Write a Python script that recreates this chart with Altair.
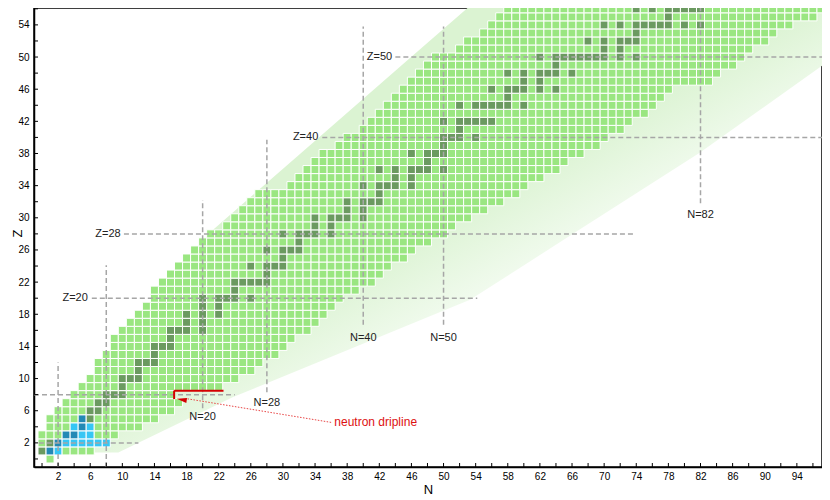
import altair as alt
import pandas as pd

# ---------------- data ----------------
Z_rows = list(range(0, 57))
# first and last known neutron number per proton number Z
N_first = [1, 0, 0, 0, 1, 1, 2, 3, 4, 5,
           6, 7, 7, 8, 9, 9, 10, 11, 12, 13,
           14, 14, 15, 16, 17, 18, 19, 20, 21, 23,
           24, 25, 26, 27, 31, 32, 33, 34, 35, 37,
           38, 40, 41, 42, 43, 44, 45, 46, 47, 48,
           49, 52, 53, 55, 56, 57, 58]
N_last = [1, 6, 8, 9, 12, 14, 16, 17, 16, 22,
          24, 26, 27, 29, 30, 31, 33, 34, 35, 36,
          37, 39, 41, 42, 43, 45, 46, 48, 50, 51,
          53, 55, 57, 59, 60, 62, 64, 65, 67, 69,
          70, 72, 73, 75, 76, 77, 78, 83, 84, 86,
          87, 88, 90, 91, 93, 96, 97]
# stable nuclides (neutron numbers) per Z
stable_N = [
    [], [0, 1], [1, 2], [3, 4], [5], [5, 6], [6, 7], [7, 8], [8, 9, 10], [10],
    [10, 11, 12], [12], [12, 13, 14], [14], [14, 15, 16], [16], [16, 17, 18, 20], [18, 20], [18, 20, 22], [20, 22],
    [20, 22, 23, 24, 26], [24], [24, 25, 26, 27, 28], [28], [26, 28, 29, 30], [30], [28, 30, 31, 32], [32],
    [30, 32, 33, 34, 36], [34, 36],
    [34, 36, 37, 38, 40], [38, 40], [38, 40, 41, 42], [42], [40, 42, 43, 44, 46], [44, 46],
    [42, 44, 46, 47, 48, 50], [48], [46, 48, 49, 50], [50],
    [50, 51, 52, 54], [52], [50, 52, 53, 54, 55, 56], [], [52, 54, 55, 56, 57, 58, 60], [58],
    [56, 58, 59, 60, 62, 64], [60, 62], [58, 60, 62, 63, 64, 66], [64],
    [62, 64, 65, 66, 67, 68, 69, 70, 72, 74], [70, 72], [68, 70, 72, 73, 74], [74],
    [70, 72, 74, 75, 76, 77, 78, 80, 82], [78], [74, 76, 78, 79, 80, 81, 82],
]
# light nuclei highlighted in blue (Z = 0..5)
blue_N = [[], [1, 2], [2, 3, 4, 5, 6, 7, 8], [3, 4, 5, 6], [4, 5, 6], [5]]

# shaded band behind the chart (Z, left N, right N)
band_Z = [0.8, 7.7, 19.8, 28.5, 38.1, 49.6, 57.5]
band_left = [1.0, 4.5, 14.5, 21.3, 32.3, 45.5, 54.6]
band_right = [9.5, 23.8, 53.3, 66.9, 81.9, 98.1, 110.0]

# magic-number guide lines
mh_Z = [2, 8, 20, 28, 40, 50]
mh_N1 = [-0.4, -1.0, 6.2, 10.2, 34.9, 44.0]
mh_N2 = [12.0, 24.0, 54.2, 73.8, 98.0, 98.0]
mv_N = [2, 8, 20, 28, 40, 50, 82]
mv_Z1 = [-1.0, -1.0, 6.3, 8.3, 16.7, 16.7, 31.8]
mv_Z2 = [12.0, 24.1, 32.2, 39.7, 53.8, 53.8, 56.1]

zlab_text = ["Z=20", "Z=28", "Z=40", "Z=50"]
zlab_N = [5.7, 9.8, 34.4, 43.6]
zlab_Z = [20, 28, 40, 50]
nlab_text = ["N=20", "N=28", "N=40", "N=50", "N=82"]
nlab_N = [20, 28, 40, 50, 82]
nlab_Z = [5.2, 7.0, 15.05, 15.05, 30.3]

# neutron dripline annotation
red_N1 = [16.45, 16.45]
red_Z1 = [8.5, 8.5]
red_N2 = [22.6, 16.45]
red_Z2 = [8.5, 7.45]
arrow_line = {"N1": [36.0], "Z1": [4.55], "N2": [18.0], "Z2": [7.5]}
arrow_head = {"N": [17.4], "Z": [7.38]}
drip_text = {"N": [36.4], "Z": [4.6], "t": ["neutron dripline"]}

# ---------------- tables ----------------
rows = []
for z, n0, n1, st in zip(Z_rows, N_first, N_last, stable_N):
    blue = blue_N[z] if z < len(blue_N) else []
    for n in range(n0, n1 + 1):
        s = n in st
        if n in blue:
            cat = "blue_stable" if s else "blue"
        else:
            cat = "stable" if s else "known"
        rows.append({"N": n, "Z": z, "cat": cat})
cells = pd.DataFrame(rows)

band_df = pd.DataFrame({"Z": band_Z, "left": band_left, "right": band_right})
mh_df = pd.DataFrame({"Z": mh_Z, "N1": mh_N1, "N2": mh_N2})
mv_df = pd.DataFrame({"N": mv_N, "Z1": mv_Z1, "Z2": mv_Z2})
zl_df = pd.DataFrame({"t": zlab_text, "N": zlab_N, "Z": zlab_Z})
nl_df = pd.DataFrame({"t": nlab_text, "N": nlab_N, "Z": nlab_Z})
red_df = pd.DataFrame({"N1": red_N1, "Z1": red_Z1, "N2": red_N2, "Z2": red_Z2})
arrow_df = pd.DataFrame(arrow_line)
head_df = pd.DataFrame(arrow_head)
dt_df = pd.DataFrame(drip_text)
xt_df = pd.DataFrame({"N": list(range(0, 97, 2))})
yt_df = pd.DataFrame({"Z": list(range(0, 57, 2))})

# ---------------- chart ----------------
W, H = 788, 459
FONT = "Liberation Sans"
xs = alt.Scale(domain=[-1, 97.13], nice=False, zero=False)
ys = alt.Scale(domain=[-1, 56.1], nice=False, zero=False)
xa = alt.Axis(title="N", values=list(range(2, 95, 4)), ticks=False, tickSize=0, grid=False,
              labelPadding=4, labelFontSize=10, labelFont=FONT, labelColor="#000",
              titleFont=FONT, titleFontSize=13, titleFontWeight="normal", titleColor="#000",
              titlePadding=2, domainColor="#000", domainWidth=1.5)
ya = alt.Axis(title="Z", values=list(range(2, 55, 4)), ticks=False, tickSize=0, grid=False,
              labelPadding=5, labelFontSize=10, labelFont=FONT, labelColor="#000",
              titleFont=FONT, titleFontSize=13, titleFontWeight="normal", titleColor="#000",
              titleX=-17, titleY=225, titleBaseline="middle", titleAlign="center",
              domainColor="#000", domainWidth=1.5)

def X(f):
    return alt.X(f, type="quantitative", scale=xs, axis=xa)

def Y(f):
    return alt.Y(f, type="quantitative", scale=ys, axis=ya)

band_fill = alt.Gradient(
    gradient="linear",
    stops=[alt.GradientStop(offset=0, color="#dbf3d2"),
           alt.GradientStop(offset=1, color="#f5fcf3")],
    x1=0.487, y1=0.433, x2=0.621, y2=0.553)

band = alt.Chart(band_df).mark_area(orient="horizontal", color=band_fill, clip=True,
                                    interpolate="linear").encode(
    y=Y("Z"), x=X("left"), x2="right")

cell_layer = alt.Chart(cells).transform_calculate(
    x0="datum.N - 0.5", x1="datum.N + 0.5", y0="datum.Z - 0.5", y1="datum.Z + 0.5"
).mark_rect(stroke="#ffffff", strokeWidth=1, clip=True).encode(
    x=X("x0"), x2="x1", y=Y("y0"), y2="y1",
    color=alt.Color("cat:N", legend=None,
                    scale=alt.Scale(domain=["known", "stable", "blue", "blue_stable"],
                                    range=["#9ae681", "#6b9a60", "#36c6f4", "#2389b5"])))

dash = dict(color="#a6a6a6", strokeWidth=1.5, strokeDash=[5, 3])
mh = alt.Chart(mh_df).mark_rule(**dash, clip=True).encode(x=X("N1"), x2="N2", y=Y("Z"))
mv = alt.Chart(mv_df).mark_rule(**dash, clip=True).encode(x=X("N"), y=Y("Z1"), y2="Z2")

xt = alt.Chart(xt_df).mark_rule(color="#000", strokeWidth=1).encode(
    x=X("N"), y=alt.value(H), y2=alt.value(H - 4))
yt = alt.Chart(yt_df).mark_rule(color="#000", strokeWidth=1).encode(
    y=Y("Z"), x=alt.value(0), x2=alt.value(4))

zl = alt.Chart(zl_df).mark_text(align="right", baseline="middle", font=FONT, fontSize=11,
                                color="#222").encode(x=X("N"), y=Y("Z"), text="t:N")
nl = alt.Chart(nl_df).mark_text(align="center", baseline="middle", font=FONT, fontSize=11,
                                color="#222").encode(x=X("N"), y=Y("Z"), text="t:N")

red = alt.Chart(red_df).mark_rule(color="#d40000", strokeWidth=2).encode(
    x=X("N1"), y=Y("Z1"), x2="N2", y2="Z2")
dotted = alt.Chart(arrow_df).mark_rule(color="#e84545", strokeWidth=1, strokeDash=[1.5, 1.5]).encode(
    x=X("N1"), y=Y("Z1"), x2="N2", y2="Z2")
head = alt.Chart(head_df).mark_point(shape="M -1 0 L 1 -0.5 L 1 0.5 Z", filled=True, size=100,
                                     angle=9, color="#d40000", opacity=1).encode(x=X("N"), y=Y("Z"))
dtext = alt.Chart(dt_df).mark_text(align="left", baseline="middle", font=FONT, fontSize=12,
                                   color="#dd1111").encode(x=X("N"), y=Y("Z"), text="t:N")

chart = alt.layer(band, cell_layer, mh, mv, xt, yt, zl, nl, red, dotted, head, dtext).properties(
    width=W, height=H,
    autosize=alt.AutoSizeParams(type="none"),
    padding={"left": 26, "top": 0, "right": 0, "bottom": 32},
    background="#ffffff",
).configure_view(stroke="#000", strokeWidth=1.5)

chart.save("out.html", embed_options={"renderer": "svg", "actions": False})
